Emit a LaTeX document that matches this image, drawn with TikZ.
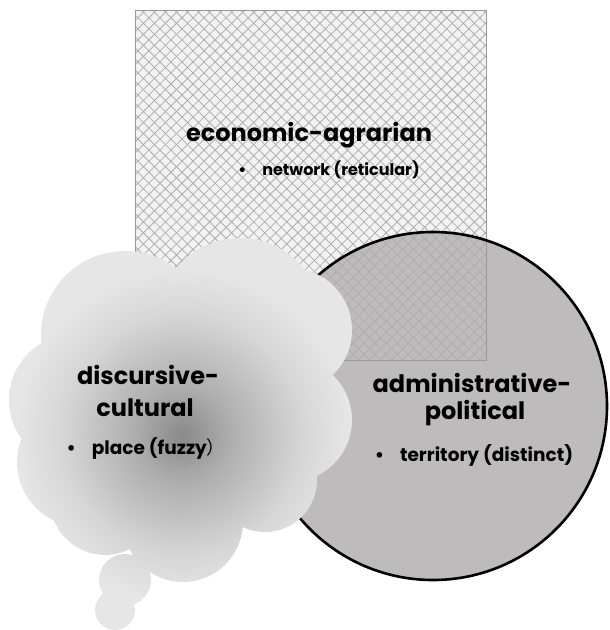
\documentclass[tikz,border=0pt]{standalone}
\usepackage{fontspec}
\setmainfont{Poppins}
\newfontfamily\cjkfont{Noto Sans CJK SC}
\usetikzlibrary{patterns.meta}
\definecolor{rectfill}{HTML}{F2F2F2}
\definecolor{patcol}{HTML}{AEAEAE}
\definecolor{circfill}{HTML}{BDBBBB}
\definecolor{rectedge}{HTML}{9A9A9A}
\definecolor{cA}{HTML}{898989}
\definecolor{cB}{HTML}{AEAEAE}
\definecolor{cC}{HTML}{D6D6D6}
\definecolor{cD}{HTML}{E6E6E6}
\pgfdeclareradialshading{cloudshade}{\pgfpoint{0bp}{0bp}}{color(0bp)=(cA); color(4bp)=(cB); color(10bp)=(cC); color(14bp)=(cD); color(50bp)=(cD)}
\tikzset{
  title/.style={font=\bfseries\fontsize{24}{26}\selectfont, inner sep=0pt},
  sub/.style={font=\bfseries\fontsize{16}{18}\selectfont, inner sep=0pt},
  subbig/.style={font=\bfseries\fontsize{18.5}{20}\selectfont, inner sep=0pt},
}
\newcommand{\cloudpath}{%
  (185,410) circle (120pt)
  (125,335) circle (84pt)
  (240,320) circle (82pt)
  (290,330) circle (62pt)
  (290,420) circle (62pt)
  (265,480) circle (52pt)
  (183,522) circle (60pt)
  (82,462) circle (65pt)
  (75,400) circle (66pt)
  (105,500) circle (55pt)
  (125,580) circle (26pt)
  (115,610) circle (20pt)}
\begin{document}
\begin{tikzpicture}[x=1pt,y=-1pt]
\useasboundingbox (0,0) rectangle (610,630);
% rectangle background
\fill[rectfill] (135,10) rectangle (486,360);
% circle fill
\fill[circfill] (433,406) circle (174pt);
% pattern over rectangle
\fill[pattern={Lines[angle=45,distance=7.8pt,line width=0.8pt]}, pattern color=patcol] (135,10) rectangle (486,360);
\fill[pattern={Lines[angle=-45,distance=7.8pt,line width=0.8pt]}, pattern color=patcol] (135,10) rectangle (486,360);
\draw[rectedge, line width=0.8pt] (135,10) rectangle (486,360);
% circle border
\draw[line width=2.6pt] (433,406) circle (174pt);
% cloud
\begin{scope}
\clip \cloudpath;
\shade[shading=cloudshade] (182,435) circle (300pt);
\end{scope}
% texts
\node[title] (econ) at (309,135) {economic-agrarian};
\node[sub] (net) at (329,170) {\textbullet\hspace{16pt}network (reticular)};
\node[title] (disc1) at (148,375) {discursive-};
\node[title] (disc2) at (145,408) {cultural};
\node[subbig] (place) at (146,449) {\textbullet\hspace{16pt}place (fuzzy{\mdseries\cjkfont ）}};
\node[title] (adm1) at (472,383) {administrative-};
\node[title] (adm2) at (475,413) {political};
\node[subbig] (terr) at (474,455) {\textbullet\hspace{16pt}territory (distinct)};
\end{tikzpicture}
\end{document}
